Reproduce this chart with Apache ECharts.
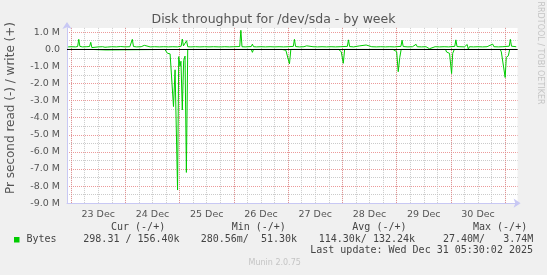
<!DOCTYPE html>
<html>
<head>
<meta charset="utf-8">
<script src="https://cdn.jsdelivr.net/npm/echarts@6/dist/echarts.min.js"></script>
<style>html,body{margin:0;padding:0;background:#f0f0f0}#c{width:547px;height:275px}</style>
</head>
<body>
<div id="c"></div>
<script>
// hours relative to 23 Dec 00:00, values in M (bytes/s)
const writeHours = [-1.3,0,2,2.9,3.4,3.9,5,7,8.2,8.7,9.2,10,12,14,15.0,15.5,16,18,20,22,24,26,26.6,27.1,27.6,29,31,32.4,33,35,37,39,41,43,45,47,48.7,49.2,49.7,50.3,51.1,51.6,53,55,57,59,61,63,65.4,65.9,66.4,68,70,72,74.6,75.1,75.6,77,79.7,80.2,80.7,82,84,86,88,90,92,94,96,98.3,98.8,99.3,101,103,104.2,105,107,109,111,113,115,117,119,122.2,122.7,123.2,125,127.7,128.5,130.5,131,133,135,137,139,141,143,145.9,146.4,146.9,149,151,152.6,153.1,155,157,158.5,159,161,163,165,167,169.7,170.2,170.7,172,174,175.2,175.7,176.2,178,180,182,184,186.5,187,189,191,193.8,194.3,194.8,196.9];
const writeValues = [0.14,0.15,0.14,0.16,0.58,0.17,0.14,0.15,0.16,0.41,0.10,0.15,0.14,0.15,0.12,0.05,0.13,0.15,0.14,0.16,0.14,0.15,0.17,0.58,0.16,0.14,0.15,0.23,0.15,0.14,0.15,0.14,0.15,0.14,0.15,0.14,0.18,0.60,0.20,0.16,0.50,0.15,0.14,0.15,0.14,0.15,0.14,0.15,0.14,0.04,0.14,0.15,0.14,0.15,0.16,1.11,0.15,0.14,0.16,0.30,0.15,0.14,0.15,0.14,0.15,0.14,0.15,0.14,0.15,0.17,0.58,0.16,0.14,0.15,0.20,0.14,0.15,0.14,0.15,0.14,0.15,0.14,0.15,0.17,0.55,0.16,0.14,0.20,0.15,0.25,0.14,0.15,0.14,0.15,0.14,0.15,0.14,0.17,0.53,0.16,0.14,0.15,0.29,0.15,0.14,0.15,0.03,0.14,0.15,0.14,0.15,0.14,0.17,0.55,0.16,0.15,0.14,0.28,0.00,0.15,0.14,0.15,0.14,0.15,0.30,0.15,0.14,0.15,0.18,0.58,0.18,0.15];
const readHours = [-1.3,8.2,8.7,9.2,15.5,16,41.5,42.0,42.6,43.8,45.3,46.0,46.4,47.1,47.6,48.2,48.6,49.2,49.8,50.4,51.0,51.6,74.6,75.1,75.6,79.7,80.2,80.7,93.3,93.8,95.0,95.5,96.6,97.2,118.3,118.8,119.5,120.4,121.0,142.4,142.9,144.0,144.7,145.4,146.0,165.6,166.1,166.8,167.4,168.3,168.8,169.5,175.2,175.7,176.2,189.8,190.3,190.9,192.0,192.5,193.4,194.0,196.9];
const readValues = [-0.01,-0.01,-0.12,-0.01,-0.04,-0.01,-0.01,-0.04,-0.23,-0.27,-3.35,-1.20,-1.25,-8.23,-0.43,-1.00,-0.70,-3.55,-0.65,-0.40,-7.20,-0.01,-0.01,-0.04,-0.01,-0.01,-0.18,-0.01,-0.01,-0.12,-0.06,-0.14,-0.85,-0.01,-0.01,-0.05,-0.14,-0.82,-0.01,-0.01,-0.05,-0.14,-1.31,-0.47,-0.01,-0.01,-0.16,-0.26,-0.24,-1.42,-0.24,-0.01,-0.01,-0.06,-0.01,-0.01,-0.15,-0.24,-1.65,-0.47,-0.38,-0.01,-0.01];
const dayLabelHours = [12,36,60,84,108,132,156,180];
const dayLabels = ['23 Dec','24 Dec','25 Dec','26 Dec','27 Dec','28 Dec','29 Dec','30 Dec'];
const majorXTicks = [0,24,48,72,96,120,144,168,192];
const minorXTicks = [0,6,12,18,24,30,36,42,48,54,60,66,72,78,84,90,96,102,108,114,120,126,132,138,144,150,156,162,168,174,180,186,192];
const majorYTicks = [-9,-8,-7,-6,-5,-4,-3,-2,-1,0,1];
const minorYTicks = [-8.5,-7.5,-6.5,-5.5,-4.5,-3.5,-2.5,-1.5,-0.5,0.5];
const legendHeaders = ['Cur (-/+)','Min (-/+)','Avg (-/+)','Max (-/+)'];
const legendValues = ['298.31 / 156.40k','280.56m/  51.30k','114.30k/ 132.24k','27.40M/   3.74M'];

const X_MIN = -1.8, X_MAX = 197.5, Y_MIN = -9, Y_MAX = 1.25;
const GREEN = '#00cc00';
const AXIS = '#c8c8f4';
const MAJ = 'rgba(230,120,120,0.75)';
const MIN = 'rgba(190,190,190,0.8)';
const chart = echarts.init(document.getElementById('c'), null, {renderer:'canvas'});

const mono = 'DejaVu Sans Mono';
const hdrX = [111, 231.7, 352.3, 473];
const valX = [83.3, 200.7, 318.7, 443];
const graphics = [];
legendHeaders.forEach((t,i)=>graphics.push({type:'text', left:hdrX[i], top:222, style:{text:t, font:'10px "'+mono+'"', fill:'#444'}}));
legendValues.forEach((t,i)=>graphics.push({type:'text', left:valX[i], top:234, style:{text:t.replace(/ /g,'\u00a0'), font:'10px "'+mono+'"', fill:'#444'}}));
graphics.push({type:'rect', shape:{x:14, y:237, width:5.5, height:5.5}, style:{fill:GREEN}});
graphics.push({type:'text', left:26.5, top:234, style:{text:'Bytes', font:'10px "'+mono+'"', fill:'#444'}});
graphics.push({type:'text', right:14, top:245.5, style:{text:'Last update: Wed Dec 31 05:30:02 2025', font:'10px "'+mono+'"', fill:'#444'}});
graphics.push({type:'text', left:248.5, top:259, style:{text:'Munin 2.0.75', font:'8px "DejaVu Sans"', fill:'#c4c4c4'}});
graphics.push({type:'text', x:540, y:53, rotation:-Math.PI/2, style:{text:'RRDTOOL / TOBI OETIKER', font:'8px "DejaVu Sans"', fill:'#c4c4c4', align:'center', verticalAlign:'middle'}});
graphics.push({type:'text', x:11, y:108, rotation:Math.PI/2, style:{text:'Pr second read (-) / write (+)', font:'12px "DejaVu Sans"', fill:'#555', align:'center', verticalAlign:'middle'}});

chart.setOption({
  animation:false,
  backgroundColor:'#f0f0f0',
  title:{text:'Disk throughput for /dev/sda - by week', left:'center', top:8,
    textStyle:{fontFamily:'DejaVu Sans', fontSize:12.5, fontWeight:'normal', color:'#555'}},
  grid:{left:67, right:29.4, top:27.9, bottom:71.8, show:true, backgroundColor:'#ffffff', borderWidth:0},
  xAxis:[
    {type:'value', min:X_MIN, max:X_MAX, position:'bottom',
      axisLine:{show:false}, axisLabel:{show:false},
      axisTick:{show:false, customValues:minorXTicks},
      splitLine:{show:true, lineStyle:{color:MIN, type:[1,1], width:1}}},
    {type:'value', min:X_MIN, max:X_MAX, position:'bottom',
      axisLine:{show:true, onZero:false, lineStyle:{color:AXIS, width:1}, symbol:['none','arrow'], symbolSize:[7,7], symbolOffset:[0,3]},
      axisTick:{show:false, customValues:majorXTicks},
      axisLabel:{show:true, customValues:dayLabelHours, margin:6, color:'#555', fontFamily:'DejaVu Sans', fontSize:9.5,
        formatter:(v)=>dayLabels[dayLabelHours.indexOf(v)] || ''},
      splitLine:{show:true, lineStyle:{color:MAJ, type:[1,1], width:1}}}
  ],
  yAxis:[
    {type:'value', min:Y_MIN, max:Y_MAX, position:'left',
      axisLine:{show:false}, axisLabel:{show:false},
      axisTick:{show:false, customValues:minorYTicks},
      splitLine:{show:true, lineStyle:{color:MIN, type:[1,1], width:1}}},
    {type:'value', min:Y_MIN, max:Y_MAX, position:'left',
      axisLine:{show:true, onZero:false, lineStyle:{color:AXIS, width:1}, symbol:['none','arrow'], symbolSize:[7,7], symbolOffset:[0,6]},
      axisTick:{show:false, customValues:majorYTicks},
      axisLabel:{show:true, customValues:majorYTicks, margin:7, color:'#555', fontFamily:'DejaVu Sans', fontSize:9.5,
        formatter:(v)=> v===0 ? '0.0' : v.toFixed(1)+' M'},
      splitLine:{show:true, lineStyle:{color:MAJ, type:[1,1], width:1}}}
  ],
  series:[
    {type:'line', name:'read', xAxisIndex:1, yAxisIndex:1, showSymbol:false, symbol:'none',
      lineStyle:{color:GREEN, width:1}, itemStyle:{color:GREEN}, z:3,
      data:readHours.map((h,i)=>[h, readValues[i]]),
      markLine:{silent:true, symbol:'none', label:{show:false}, lineStyle:{color:'#000', width:1.2, type:'solid'}, data:[{yAxis:0}]}},
    {type:'line', name:'write', xAxisIndex:1, yAxisIndex:1, showSymbol:false, symbol:'none',
      lineStyle:{color:GREEN, width:1}, itemStyle:{color:GREEN}, z:4,
      data:writeHours.map((h,i)=>[h, writeValues[i]])}
  ],
  graphic:graphics
});
</script>
</body>
</html>
